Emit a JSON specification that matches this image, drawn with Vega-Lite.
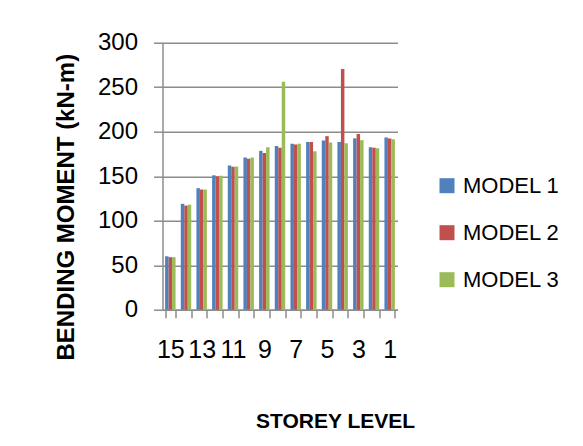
{
  "$schema": "https://vega.github.io/schema/vega-lite/v6.json",
  "autosize": {"type": "none"},
  "padding": {"left": 162.5, "top": 42.7, "right": 185.5, "bottom": 136.3},
  "width": 235,
  "height": 267,
  "background": "white",
  "config": {
    "view": {"stroke": null},
    "font": "Liberation Sans"
  },
  "data": {
    "values": [
      {"storey": 15, "model": "MODEL 1", "moment": 60},
      {"storey": 15, "model": "MODEL 2", "moment": 59},
      {"storey": 15, "model": "MODEL 3", "moment": 59},
      {"storey": 14, "model": "MODEL 1", "moment": 119},
      {"storey": 14, "model": "MODEL 2", "moment": 117},
      {"storey": 14, "model": "MODEL 3", "moment": 118},
      {"storey": 13, "model": "MODEL 1", "moment": 136.5},
      {"storey": 13, "model": "MODEL 2", "moment": 135},
      {"storey": 13, "model": "MODEL 3", "moment": 135},
      {"storey": 12, "model": "MODEL 1", "moment": 151},
      {"storey": 12, "model": "MODEL 2", "moment": 150},
      {"storey": 12, "model": "MODEL 3", "moment": 150.5},
      {"storey": 11, "model": "MODEL 1", "moment": 162},
      {"storey": 11, "model": "MODEL 2", "moment": 160.5},
      {"storey": 11, "model": "MODEL 3", "moment": 161},
      {"storey": 10, "model": "MODEL 1", "moment": 171},
      {"storey": 10, "model": "MODEL 2", "moment": 169.5},
      {"storey": 10, "model": "MODEL 3", "moment": 171},
      {"storey": 9, "model": "MODEL 1", "moment": 178.5},
      {"storey": 9, "model": "MODEL 2", "moment": 176},
      {"storey": 9, "model": "MODEL 3", "moment": 182.5},
      {"storey": 8, "model": "MODEL 1", "moment": 184},
      {"storey": 8, "model": "MODEL 2", "moment": 182},
      {"storey": 8, "model": "MODEL 3", "moment": 256},
      {"storey": 7, "model": "MODEL 1", "moment": 186.5},
      {"storey": 7, "model": "MODEL 2", "moment": 185.5},
      {"storey": 7, "model": "MODEL 3", "moment": 186.5},
      {"storey": 6, "model": "MODEL 1", "moment": 188.5},
      {"storey": 6, "model": "MODEL 2", "moment": 188.5},
      {"storey": 6, "model": "MODEL 3", "moment": 178},
      {"storey": 5, "model": "MODEL 1", "moment": 190},
      {"storey": 5, "model": "MODEL 2", "moment": 195},
      {"storey": 5, "model": "MODEL 3", "moment": 188},
      {"storey": 4, "model": "MODEL 1", "moment": 188.5},
      {"storey": 4, "model": "MODEL 2", "moment": 270.5},
      {"storey": 4, "model": "MODEL 3", "moment": 187},
      {"storey": 3, "model": "MODEL 1", "moment": 192.5},
      {"storey": 3, "model": "MODEL 2", "moment": 197.5},
      {"storey": 3, "model": "MODEL 3", "moment": 190.5},
      {"storey": 2, "model": "MODEL 1", "moment": 182.5},
      {"storey": 2, "model": "MODEL 2", "moment": 182},
      {"storey": 2, "model": "MODEL 3", "moment": 181.5},
      {"storey": 1, "model": "MODEL 1", "moment": 193.5},
      {"storey": 1, "model": "MODEL 2", "moment": 192.5},
      {"storey": 1, "model": "MODEL 3", "moment": 191.5}
    ]
  },
  "mark": {"type": "bar", "cornerRadius": 0},
  "encoding": {
    "x": {
      "field": "storey",
      "type": "ordinal",
      "sort": "descending",
      "scale": {"paddingInner": 0.3333, "paddingOuter": 0.1667},
      "axis": {
        "title": "STOREY LEVEL",
        "titleFontWeight": "bold",
        "titleFontSize": 21,
        "titleColor": "black",
        "titleX": 172.5,
        "titleY": 118,
        "titleAnchor": "middle",
        "titleAlign": "center",
        "titleBaseline": "alphabetic",
        "labelAngle": 0,
        "labelFontSize": 25,
        "labelColor": "black",
        "labelPadding": 20,
        "labelExpr": "datum.value % 2 == 1 ? datum.label : ''",
        "tickBand": "extent",
        "tickSize": 8,
        "tickColor": "#8c8c8c",
        "tickWidth": 1.5,
        "domainColor": "#8c8c8c",
        "domainWidth": 1.5,
        "grid": false
      }
    },
    "xOffset": {"field": "model", "type": "nominal", "sort": ["MODEL 1", "MODEL 2", "MODEL 3"]},
    "y": {
      "field": "moment",
      "type": "quantitative",
      "scale": {"domain": [0, 300], "nice": false},
      "axis": {
        "title": "BENDING MOMENT (kN-m)",
        "titleFontWeight": "bold",
        "titleFontSize": 24,
        "titleColor": "black",
        "titleX": -96.5,
        "titleY": 164,
        "titleAngle": -90,
        "titleAlign": "center",
        "titleBaseline": "middle",
        "values": [0, 50, 100, 150, 200, 250, 300],
        "labelFontSize": 24,
        "labelColor": "black",
        "labelPadding": 16,
        "tickSize": 9,
        "tickColor": "#8c8c8c",
        "tickWidth": 1.5,
        "domainColor": "#8c8c8c",
        "domainWidth": 1.5,
        "gridColor": "#8c8c8c",
        "gridWidth": 1.5
      }
    },
    "color": {
      "field": "model",
      "type": "nominal",
      "scale": {"domain": ["MODEL 1", "MODEL 2", "MODEL 3"], "range": ["#4F81BD", "#C0504D", "#9BBB59"]},
      "legend": {
        "title": null,
        "orient": "none",
        "legendX": 273.5,
        "legendY": 132,
        "symbolType": "square",
        "symbolSize": 225,
        "symbolStrokeWidth": 0,
        "symbolOpacity": 1,
        "labelFontSize": 22,
        "labelColor": "black",
        "labelOffset": 5,
        "rowPadding": 25
      }
    }
  }
}
